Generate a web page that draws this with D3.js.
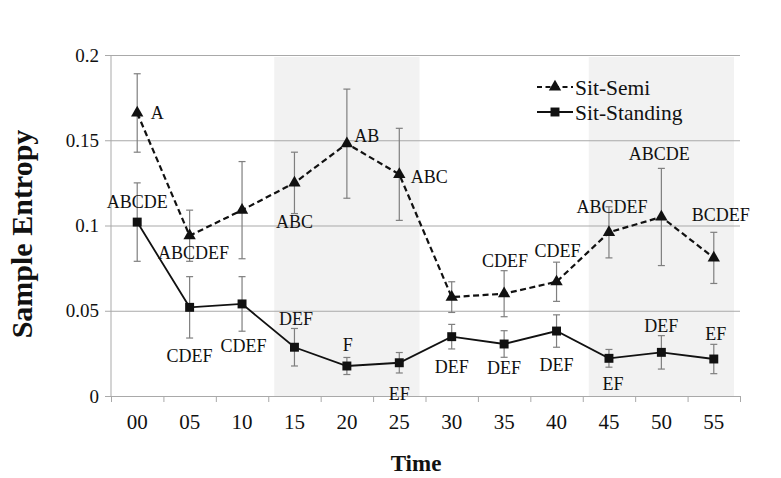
<!DOCTYPE html>
<html><head><meta charset="utf-8">
<script src="https://cdn.jsdelivr.net/npm/d3@7"></script>
<style>body{margin:0;background:#fff}svg{display:block}</style>
</head><body>
<script>
const categories = ["00","05","10","15","20","25","30","35","40","45","50","55"];
const yTicks = [0, 0.05, 0.1, 0.15, 0.2];
const yTickLabels = ["0","0.05","0.1","0.15","0.2"];
const semiValues = [0.166,0.094,0.109,0.125,0.148,0.130,0.058,0.060,0.067,0.096,0.105,0.081];
const semiErr    = [0.023,0.015,0.0285,0.018,0.032,0.027,0.009,0.0135,0.0115,0.015,0.0285,0.015];
const standValues= [0.102,0.052,0.054,0.0286,0.0176,0.0195,0.0348,0.0305,0.0381,0.0221,0.0256,0.0217];
const standErr   = [0.023,0.018,0.016,0.011,0.005,0.006,0.0072,0.0078,0.0095,0.0052,0.0098,0.0086];
const semiLabels = ["A","ABCDEF","","ABC","AB","ABC","","CDEF","CDEF","ABCDEF","ABCDE","BCDEF"];
const standLabels= ["ABCDE","CDEF","CDEF","DEF","F","EF","DEF","DEF","DEF","EF","DEF","EF"];
const shadedRanges = [["15","25"],["45","55"]];
const seriesNames = ["Sit-Semi","Sit-Standing"];

// label layout offsets (pixels, relative to marker centre)
const semiLabelOff = [[20,0],[4,17],[0,0],[0,39],[20,-8],[30,2],[0,0],[1,-33],[1,-31],[3,-26],[-2,-63],[7,-43]];
const standLabelOff= [[0,-20],[0,48],[1.5,42],[1.5,-29],[1,-21],[0,31],[0,30],[0,24],[0,34],[4,25],[0,-27],[2,-25]];

const FONT="'Liberation Serif','Times New Roman',serif";
const W=781,H=478;
const L=111,R=740,T=55,B=396;
const svg=d3.select("body").append("svg").attr("width",W).attr("height",H).style("font-family",FONT);
const x=d3.scaleBand().domain(categories).range([L,R]).padding(0);
const y=d3.scaleLinear().domain([0,0.2]).range([B,T]);
const cx=c=>x(c)+x.bandwidth()/2;
const grid="#a9a9a9";
const txt=sel=>sel.style("font-family",FONT).attr("fill","#111");

// shaded bands
svg.append("g").selectAll("rect").data(shadedRanges).join("rect")
  .attr("x",d=>x(d[0])+6).attr("width",d=>x(d[1])+x.bandwidth()-6-(x(d[0])+6))
  .attr("y",y(0.2)+2).attr("height",d=>y(0)-y(0.2)-2).attr("fill","#f2f2f2");

// y grid + axis
const yAxis=d3.axisLeft(y).tickValues(yTicks).tickFormat((d,i)=>yTickLabels[i]).tickSize(-(R-L)).tickPadding(12);
const gy=svg.append("g").attr("transform",`translate(${L},0)`).call(yAxis);
gy.attr("font-family",null);
gy.select(".domain").remove();
gy.selectAll(".tick line").attr("stroke",grid).attr("x1",-6).attr("stroke-width",1);
gy.selectAll(".tick text").attr("font-size",19).call(txt);
svg.append("line").attr("x1",L).attr("x2",L).attr("y1",T).attr("y2",B).attr("stroke",grid);

// x axis
const xb=d3.scaleLinear().domain([0,categories.length]).range([L,R]);
svg.append("g").attr("transform",`translate(0,${B})`)
  .call(d3.axisBottom(xb).tickValues(d3.range(0,13)).tickSize(6).tickFormat(""))
  .call(g=>{g.select(".domain").attr("stroke",grid);g.selectAll("line").attr("stroke",grid);});
svg.append("g").selectAll("text").data(categories).join("text")
  .attr("x",d=>cx(d)).attr("y",B+26).attr("dy","0.35em").attr("text-anchor","middle")
  .attr("font-size",21).text(d=>d).call(txt);

// error bars
function errBars(vals,errs){
  const g=svg.append("g").attr("stroke","#7f7f7f").attr("stroke-width",1.2);
  categories.forEach((c,i)=>{
    const x0=cx(c),y1=y(vals[i]+errs[i]),y2=y(vals[i]-errs[i]);
    g.append("line").attr("x1",x0).attr("x2",x0).attr("y1",y1).attr("y2",y2);
    g.append("line").attr("x1",x0-3.5).attr("x2",x0+3.5).attr("y1",y1).attr("y2",y1);
    g.append("line").attr("x1",x0-3.5).attr("x2",x0+3.5).attr("y1",y2).attr("y2",y2);
  });
}
errBars(semiValues,semiErr);
errBars(standValues,standErr);

const line=d3.line().x((d,i)=>cx(categories[i])).y(d=>y(d));
svg.append("path").datum(semiValues).attr("d",line).attr("fill","none").attr("stroke","#111").attr("stroke-width",2.2).attr("stroke-dasharray","6,3.5");
svg.append("path").datum(standValues).attr("d",line).attr("fill","none").attr("stroke","#111").attr("stroke-width",1.8);

const tri=d3.symbol().type(d3.symbolTriangle).size(66);
const sq=d3.symbol().type(d3.symbolSquare).size(80);
svg.append("g").selectAll("path").data(semiValues).join("path")
  .attr("d",tri).attr("transform",(d,i)=>`translate(${cx(categories[i])},${y(d)})`).attr("fill","#111");
svg.append("g").selectAll("path").data(standValues).join("path")
  .attr("d",sq).attr("transform",(d,i)=>`translate(${cx(categories[i])},${y(d)})`).attr("fill","#111");

// letter labels
function labels(vals,labs,off){
  svg.append("g").selectAll("text").data(vals).join("text")
    .attr("x",(d,i)=>cx(categories[i])+off[i][0]).attr("y",(d,i)=>y(d)+off[i][1])
    .attr("dy","0.35em").attr("text-anchor","middle").attr("font-size",18)
    .text((d,i)=>labs[i]).call(txt);
}
labels(semiValues,semiLabels,semiLabelOff);
labels(standValues,standLabels,standLabelOff);

// legend
const lg=svg.append("g");
const legRows=[{name:seriesNames[0],dash:"5,3.5",sym:tri,y:87},{name:seriesNames[1],dash:null,sym:sq,y:112}];
legRows.forEach(r=>{
  lg.append("line").attr("x1",537).attr("x2",573).attr("y1",r.y).attr("y2",r.y).attr("stroke","#111")
    .attr("stroke-width",2).attr("stroke-dasharray",r.dash);
  lg.append("path").attr("d",r.sym).attr("transform",`translate(555,${r.y})`).attr("fill","#111");
  lg.append("text").attr("x",575).attr("y",r.y).attr("dy","0.35em").attr("font-size",21.5).text(r.name).call(txt);
});

// axis titles
svg.append("text").attr("transform","translate(32,234) rotate(-90)").attr("text-anchor","middle")
  .attr("font-weight","bold").attr("font-size",30).text("Sample Entropy").call(txt);
svg.append("text").attr("x",416).attr("y",463).attr("dy","0.35em").attr("text-anchor","middle")
  .attr("font-weight","bold").attr("font-size",23).text("Time").call(txt);
</script>
</body></html>
